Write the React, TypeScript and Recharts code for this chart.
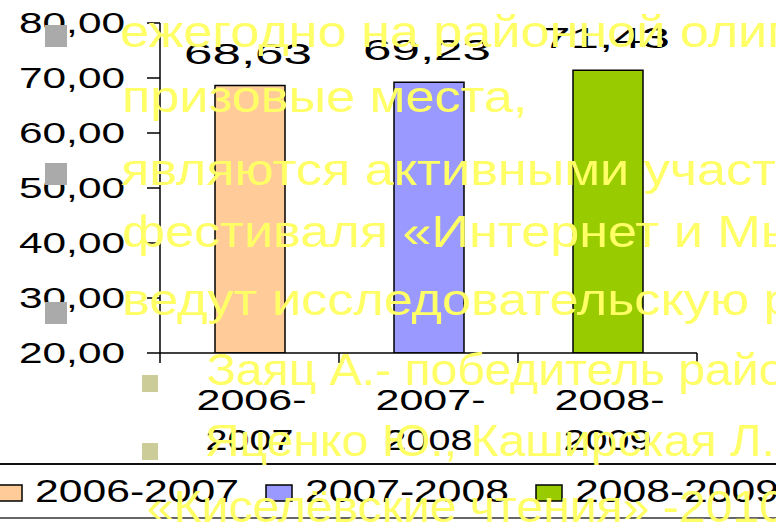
import { Bar, BarChart, Cell, LabelList, Legend, XAxis, YAxis } from "recharts";

const categories = ["2006-2007", "2007-2008", "2008-2009"];
const values = [68.63, 69.23, 71.43];
const colors = ["#FFCC99", "#9999FF", "#99CC00"];
const yTicks = [20, 30, 40, 50, 60, 70, 80];

const slideLines = [
  "ежегодно на районной олимпиаде",
  "призовые места,",
  "являются активными участниками",
  "фестиваля «Интернет и Мы»",
  "ведут исследовательскую работу",
  "Заяц А.- победитель районной",
  "Яценко Ю., Каширская Л.",
  "«Киселёвские чтения» -2010",
];

const W = 776;
const H = 527;
const M = { top: 23, right: 79, bottom: 114, left: 0 };
const Y_W = 160;
const X_H = 60;
const FONT = "'Liberation Sans', Arial, sans-serif";

const data = categories.map((name, i) => ({ name, value: values[i] }));
const fmt = (v: number) => v.toFixed(2).replace(".", ",");

function YTick(props: any) {
  const { x, y, payload } = props;
  return (
    <text
      x={x}
      y={y}
      textAnchor="end"
      dominantBaseline="central"
      fontSize={29}
      fill="#000"
      textLength={106}
      lengthAdjust="spacingAndGlyphs"
    >
      {fmt(payload.value)}
    </text>
  );
}

function XTick(props: any) {
  const { x, y, payload, index } = props;
  const band = (W - Y_W - M.right) / categories.length;
  const [a, b] = String(payload.value).split("-");
  return (
    <g>
      <line x1={x - band / 2} x2={x - band / 2} y1={y} y2={y + 10} stroke="#000" strokeWidth={1.5} />
      {index === categories.length - 1 && (
        <line x1={x + band / 2} x2={x + band / 2} y1={y} y2={y + 10} stroke="#000" strokeWidth={1.5} />
      )}
      <text x={x + 2} y={y + 57} textAnchor="middle" fontSize={30} fill="#000" textLength={110} lengthAdjust="spacingAndGlyphs">
        {a + "-"}
      </text>
      <text x={x} y={y + 97} textAnchor="middle" fontSize={30} fill="#000" textLength={88} lengthAdjust="spacingAndGlyphs">
        {b}
      </text>
    </g>
  );
}

function BarLabel(props: any) {
  const { x, y, width, value } = props;
  return (
    <text
      x={x + width / 2 - 2}
      y={y - 22}
      textAnchor="middle"
      fontSize={29}
      fill="#000"
      textLength={128}
      lengthAdjust="spacingAndGlyphs"
    >
      {fmt(value)}
    </text>
  );
}

function LegendBox() {
  return (
    <svg width={W} height={62} style={{ display: "block", fontFamily: FONT }}>
      <line x1={0} x2={W} y1={4} y2={4} stroke="#111" strokeWidth={2} />
      <line x1={0} x2={W} y1={58} y2={58} stroke="#333" strokeWidth={1.5} />
      {categories.map((c, i) => (
        <g key={c}>
          <rect x={-4 + i * 270} y={25} width={26} height={16} fill={colors[i]} stroke="#000" strokeWidth={1.5} />
          <text x={35 + i * 270} y={42} fontSize={32} fill="#000" textLength={204} lengthAdjust="spacingAndGlyphs">
            {c}
          </text>
        </g>
      ))}
    </svg>
  );
}

function Overlay() {
  const yellow = "#FFFF66";
  const rows = [
    { x: 120, y: 47, s: 1.16 },
    { x: 122, y: 112, s: 1.16 },
    { x: 121, y: 185, s: 1.16 },
    { x: 122, y: 247, s: 1.16 },
    { x: 122, y: 315, s: 1.16 },
    { x: 207, y: 385, s: 1.07 },
    { x: 205, y: 456, s: 1.07 },
    { x: 147, y: 522, s: 1.07 },
  ];
  return (
    <svg
      width={W}
      height={H}
      style={{ position: "absolute", left: 0, top: 0, fontFamily: FONT, pointerEvents: "none" }}
    >
      {[25, 163, 302].map((y) => (
        <rect key={y} x={45} y={y} width={22} height={22} fill="#AAAAAA" />
      ))}
      {[375, 443].map((y) => (
        <rect key={y} x={142} y={y} width={16} height={17} fill="#CCCC99" />
      ))}
      {slideLines.map((t, i) => (
        <g key={i} transform={`translate(${rows[i].x},${rows[i].y}) scale(${rows[i].s},1)`}>
          <text x={0} y={0} fontSize={45} fill={yellow}>
            {t}
          </text>
        </g>
      ))}
    </svg>
  );
}

export default function App() {
  return (
    <div
      style={{
        position: "fixed",
        left: 0,
        top: 0,
        width: W,
        height: H,
        overflow: "hidden",
        background: "#fff",
        fontFamily: FONT,
      }}
    >
      <BarChart width={W} height={H} data={data} margin={M}>
        <XAxis
          dataKey="name"
          height={X_H}
          interval={0}
          axisLine={{ stroke: "#000", strokeWidth: 1.5 }}
          tickLine={false}
          tickSize={0}
          tickMargin={0}
          tick={<XTick />}
        />
        <YAxis
          width={Y_W}
          domain={[20, 80]}
          ticks={yTicks}
          allowDataOverflow
          axisLine={{ stroke: "#000", strokeWidth: 1.5 }}
          tickLine={{ stroke: "#000", strokeWidth: 1.5 }}
          tickSize={13}
          tickMargin={22}
          tick={<YTick />}
        />
        <Bar dataKey="value" barSize={70} stroke="#000" strokeWidth={1.5} isAnimationActive={false}>
          {data.map((d, i) => (
            <Cell key={d.name} fill={colors[i]} />
          ))}
          <LabelList dataKey="value" content={<BarLabel />} />
        </Bar>
        <Legend
          layout="horizontal"
          verticalAlign="middle"
          align="center"
          content={<LegendBox />}
          wrapperStyle={{ position: "absolute", left: 0, top: 460, width: W, height: 62 }}
        />
      </BarChart>
      <Overlay />
    </div>
  );
}
